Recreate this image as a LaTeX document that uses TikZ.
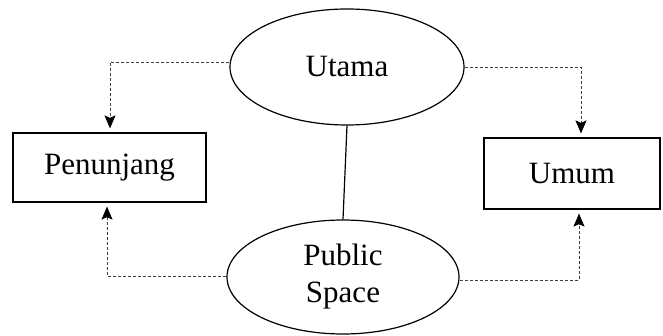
\documentclass[tikz,border=0pt]{standalone}
\usepackage{fontspec}
\setmainfont{Liberation Serif}
\usetikzlibrary{arrows.meta,shapes.geometric}
\begin{document}
\begin{tikzpicture}[x=1pt,y=-1pt,
  lbl/.style={font=\fontsize{31}{37}\selectfont},
  oval/.style={draw,ellipse,line width=1.2pt,lbl,align=center},
  box/.style={draw,rectangle,line width=1.2pt,lbl},
  flow/.style={draw=black!75,densely dashed,line width=0.6pt,-{Stealth[length=13pt,width=11pt,inset=2.5pt,color=black]},shorten >=4pt}]
\useasboundingbox (0,0) rectangle (663,336);
\node[oval,minimum width=234,minimum height=116] (ut) at (347,67) {Utama};
\node[oval,minimum width=232,minimum height=114] (ps) at (343,277) {Public\\Space};
\node[box,minimum width=193,minimum height=69] (pen) at (109.5,167.5) {Penunjang};
\node[box,minimum width=176,minimum height=71] (um) at (572,173.5) {Umum};
\coordinate (c1) at (110,62);
\coordinate (c2) at (581,67);
\coordinate (c3) at (107,276);
\coordinate (c4) at (579,280);
\draw[line width=1.2pt] (ut.south) -- (ps.north);
\draw[flow] (ut.west |- c1) -- (c1) -- (c1 |- pen.north);
\draw[flow] (ut.east |- c2) -- (c2) -- (c2 |- um.north);
\draw[flow] (ps.west |- c3) -- (c3) -- (c3 |- pen.south);
\draw[flow] (ps.east |- c4) -- (c4) -- (c4 |- um.south);
\end{tikzpicture}
\end{document}
